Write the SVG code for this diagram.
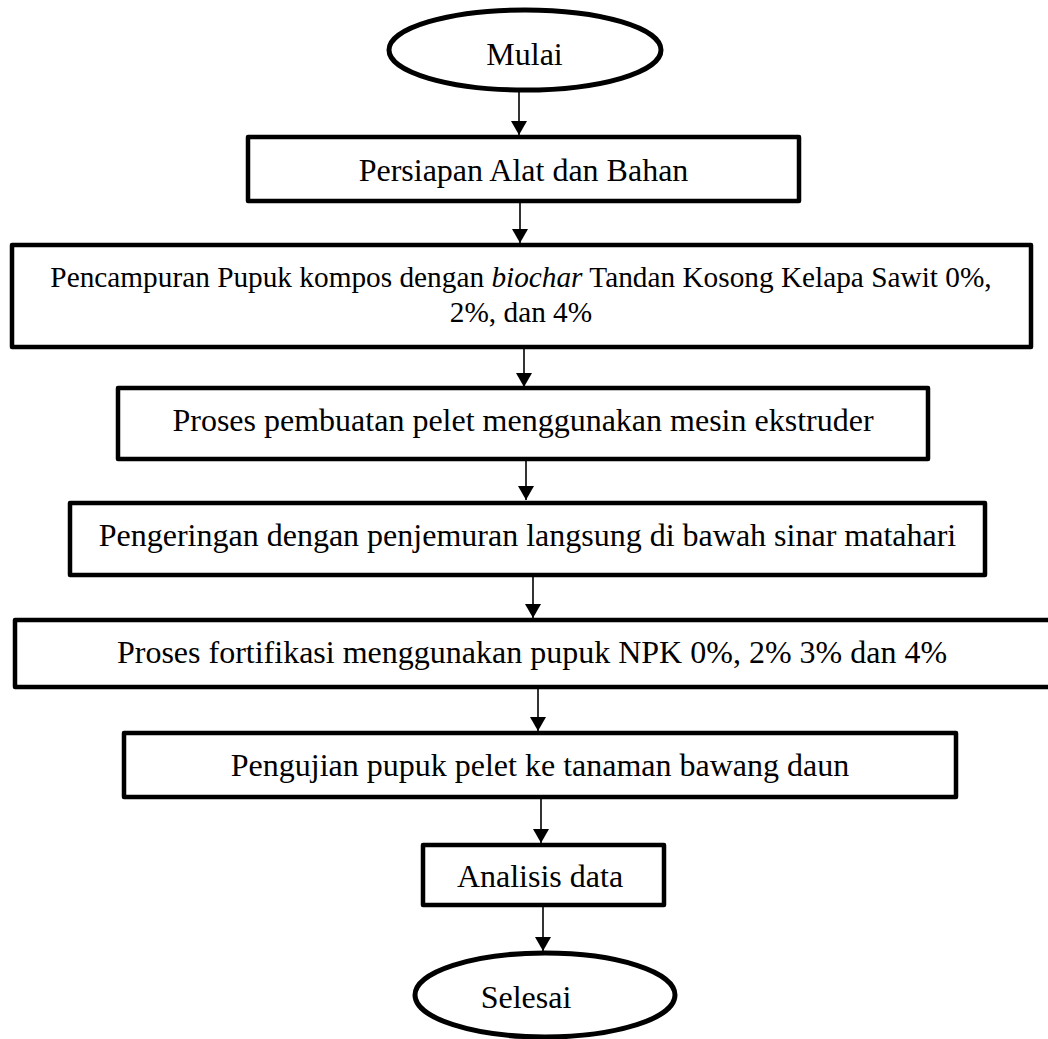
<svg xmlns="http://www.w3.org/2000/svg" width="1048" height="1039" viewBox="0 0 1048 1039">
<defs>
<style>
.box{fill:#fff;stroke:#000;stroke-width:4.5;stroke-linejoin:round}
.term{fill:#fff;stroke:#000;stroke-width:5}
.t{font-family:"Liberation Serif","Times New Roman",serif;font-size:32px;fill:#000;text-anchor:middle}
.t2{font-family:"Liberation Serif","Times New Roman",serif;font-size:29.3px;fill:#000;text-anchor:middle}
.conn{stroke:#000;stroke-width:1.6;fill:none;marker-end:url(#ah)}
</style>
<marker id="ah" viewBox="0 0 14 16" refX="14" refY="8" markerWidth="14" markerHeight="16" markerUnits="userSpaceOnUse" orient="auto">
<path d="M0,0 L14,8 L0,16 Z" fill="#000"/>
</marker>
</defs>
<rect width="1048" height="1039" fill="#fff"/>
<g id="connectors">
<line class="conn" x1="519" y1="92" x2="519" y2="135"/>
<line class="conn" x1="520" y1="201" x2="520" y2="243"/>
<line class="conn" x1="524" y1="347" x2="524" y2="387"/>
<line class="conn" x1="526" y1="459" x2="526" y2="500"/>
<line class="conn" x1="533" y1="575" x2="533" y2="618"/>
<line class="conn" x1="538" y1="687" x2="538" y2="731"/>
<line class="conn" x1="541" y1="797" x2="541" y2="843"/>
<line class="conn" x1="543" y1="905" x2="543" y2="951"/>
</g>
<g id="mulai">
<ellipse class="term" cx="525" cy="50" rx="136" ry="40"/>
<text class="t" x="524.5" y="65">Mulai</text>
</g>
<g id="persiapan">
<rect class="box" x="248" y="137" width="551" height="64"/>
<text class="t" x="523.5" y="181">Persiapan Alat dan Bahan</text>
</g>
<g id="pencampuran">
<rect class="box" x="12" y="245" width="1019" height="102"/>
<text class="t2" x="521" y="287">Pencampuran Pupuk kompos dengan <tspan font-style="italic">biochar</tspan> Tandan Kosong Kelapa Sawit 0%,</text>
<text class="t2" x="521" y="322">2%, dan 4%</text>
</g>
<g id="pembuatan">
<rect class="box" x="118" y="388" width="810" height="71"/>
<text class="t" x="523" y="431">Proses pembuatan pelet menggunakan mesin ekstruder</text>
</g>
<g id="pengeringan">
<rect class="box" x="70" y="503" width="915" height="72"/>
<text class="t" x="527.5" y="546">Pengeringan dengan penjemuran langsung di bawah sinar matahari</text>
</g>
<g id="fortifikasi">
<rect class="box" x="15" y="620" width="1036" height="67"/>
<text class="t" x="532" y="663">Proses fortifikasi menggunakan pupuk NPK 0%, 2% 3% dan 4%</text>
</g>
<g id="pengujian">
<rect class="box" x="124" y="733" width="832" height="64"/>
<text class="t" x="540" y="776">Pengujian pupuk pelet ke tanaman bawang daun</text>
</g>
<g id="analisis">
<rect class="box" x="423" y="845" width="241" height="60"/>
<text class="t" x="540" y="887">Analisis data</text>
</g>
<g id="selesai">
<ellipse class="term" cx="545" cy="995" rx="130" ry="42"/>
<text class="t" x="526" y="1008">Selesai</text>
</g>
</svg>
